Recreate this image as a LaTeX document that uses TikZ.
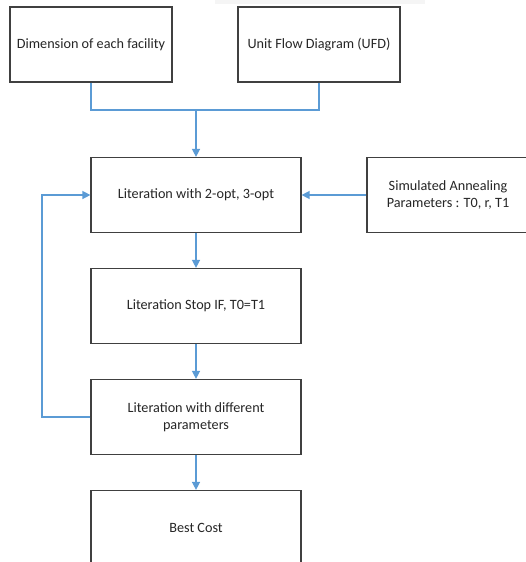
\documentclass[tikz,border=0pt]{standalone}
\usepackage{fontspec}
\setmainfont{Carlito}
\usetikzlibrary{arrows.meta, positioning}
\definecolor{flowBlue}{HTML}{5B9BD5}
\definecolor{boxGray}{HTML}{404040}

\tikzset{
  stage/.style={draw=boxGray, line width=1.2pt, fill=white, minimum height=75pt,
    align=center, inner sep=2pt, font=\fontsize{14.2}{17}\selectfont, text=black!85},
  link/.style={draw=flowBlue, line width=1.4pt},
  flow/.style={link, -{Triangle[width=8pt,length=8pt]}}
}

\begin{document}
\begin{tikzpicture}[x=1pt, y=-1pt]
    \useasboundingbox (0,0) rectangle (526,562);
    \fill[black!4] (215,0) rectangle (425,4);
    % input boxes
    \node[stage, minimum width=162pt] (dim) at (91,44.5) {Dimension of each facility};
    \node[stage, minimum width=162pt] (ufd) at (319,44.5) {Unit Flow Diagram (UFD)};
    % main column
    \node[stage, minimum width=210pt] (iter) at (196,195) {Literation with 2-opt, 3-opt};
    \node[stage, minimum width=162pt] (sapar) at (448,195) {Simulated Annealing\\Parameters : T0, r, T1};
    \node[stage, minimum width=210pt] (stop) at (196,306) {Literation Stop IF, T0=T1};
    \node[stage, minimum width=210pt] (diffpar) at (196,417) {Literation with different\\parameters};
    \node[stage, minimum width=210pt] (best) at (196,528) {Best Cost};
    \coordinate (join) at (196,110);
    \coordinate (back) at (42,417);
    \draw[link] (dim.south) |- (join);
    \draw[link] (ufd.south) |- (join);
    \draw[flow] (join) -- (iter.north);
    \draw[flow] (sapar.west) -- (iter.east);
    \draw[flow] (iter.south) -- (stop.north);
    \draw[flow] (stop.south) -- (diffpar.north);
    \draw[flow] (diffpar.south) -- (best.north);
    \draw[flow] (diffpar.west) -- (back) |- (iter.west);
\end{tikzpicture}
\end{document}
